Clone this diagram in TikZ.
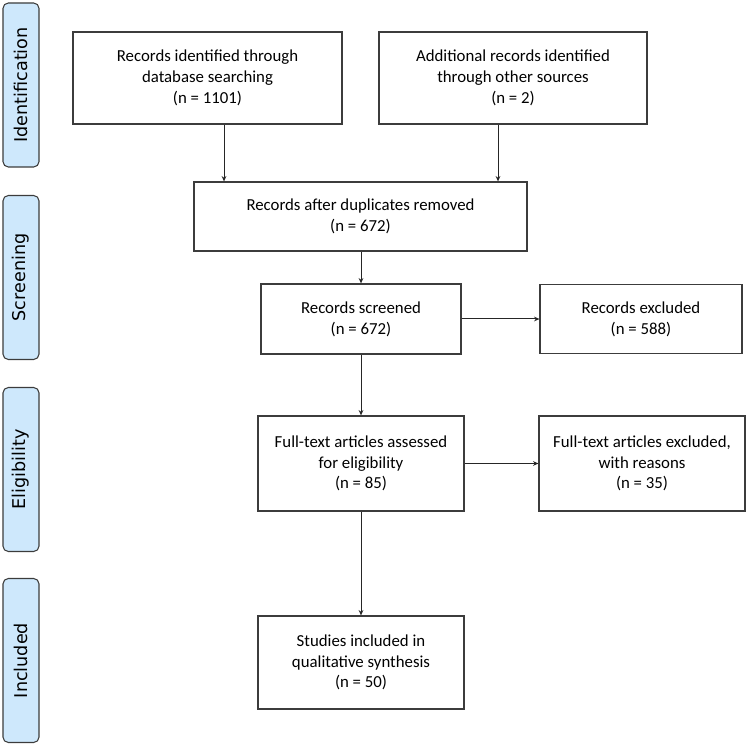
\documentclass[tikz,border=0pt]{standalone}
\usepackage{fontspec}
\setmainfont{Carlito}
\newfontfamily\sidefont{DejaVu Sans}
\usetikzlibrary{arrows.meta}
\definecolor{sideblue}{RGB}{206,232,252}
\definecolor{edgegray}{RGB}{60,60,60}
\tikzset{
  flowbox/.style={draw=edgegray, line width=0.9pt, align=center, inner sep=0pt,
    font=\fontsize{12.6}{15.6}\selectfont},
  sidebox/.style={draw=edgegray, line width=0.8pt, fill=sideblue, rounded corners=4pt,
    rotate=90, minimum width=123pt, minimum height=27pt, inner sep=0pt,
    font=\sidefont\fontsize{13.2}{15}\selectfont},
  arr/.style={draw=black!85, line width=0.75pt, -{Stealth[length=4pt,width=3.5pt]}}
}
\begin{document}
\begin{tikzpicture}[x=0.75pt,y=-0.75pt]
\useasboundingbox (0,0) rectangle (749,748);
% side phase labels
\node[sidebox] (s1) at (21,85) {Identification};
\node[sidebox] (s2) at (21,277.5) {Screening};
\node[sidebox] (s3) at (21,469.5) {Eligibility};
\node[sidebox] (s4) at (21,660.5) {Included};
% flow boxes
\node[flowbox, minimum width=201.75pt, minimum height=69pt] (b1) at (207.5,78)
  {Records identified through\\database searching\\(n = 1101)};
\node[flowbox, minimum width=201pt, minimum height=69pt] (b2) at (513,78)
  {Additional records identified\\through other sources\\(n = 2)};
\node[flowbox, minimum width=249.75pt, minimum height=51.75pt] (b3) at (360.5,216.5)
  {Records after duplicates removed\\(n = 672)};
\node[flowbox, minimum width=150pt, minimum height=52.5pt] (b4) at (361,319)
  {Records screened\\(n = 672)};
\node[flowbox, minimum width=151.5pt, minimum height=51.75pt] (b5) at (641,319)
  {Records excluded\\(n = 588)};
\node[flowbox, minimum width=154.5pt, minimum height=71.25pt] (b6) at (361,463.5)
  {Full-text articles assessed\\for eligibility\\(n = 85)};
\node[flowbox, minimum width=154.5pt, minimum height=71.25pt] (b7) at (642,463.5)
  {Full-text articles excluded,\\with reasons\\(n = 35)};
\node[flowbox, minimum width=154.5pt, minimum height=69.75pt] (b8) at (361,662.5)
  {Studies included in\\qualitative synthesis\\(n = 50)};
% connectors
\coordinate (c1) at (224,0);
\coordinate (c2) at (498,0);
\draw[arr] (b1.south -| c1) -- (b3.north -| c1);
\draw[arr] (b2.south -| c2) -- (b3.north -| c2);
\draw[arr] (b3.south -| b4.north) -- (b4.north);
\draw[arr] (b4.east) -- (b5.west);
\draw[arr] (b4.south) -- (b6.north);
\draw[arr] (b6.east) -- (b7.west);
\draw[arr] (b6.south) -- (b8.north);
\end{tikzpicture}
\end{document}
